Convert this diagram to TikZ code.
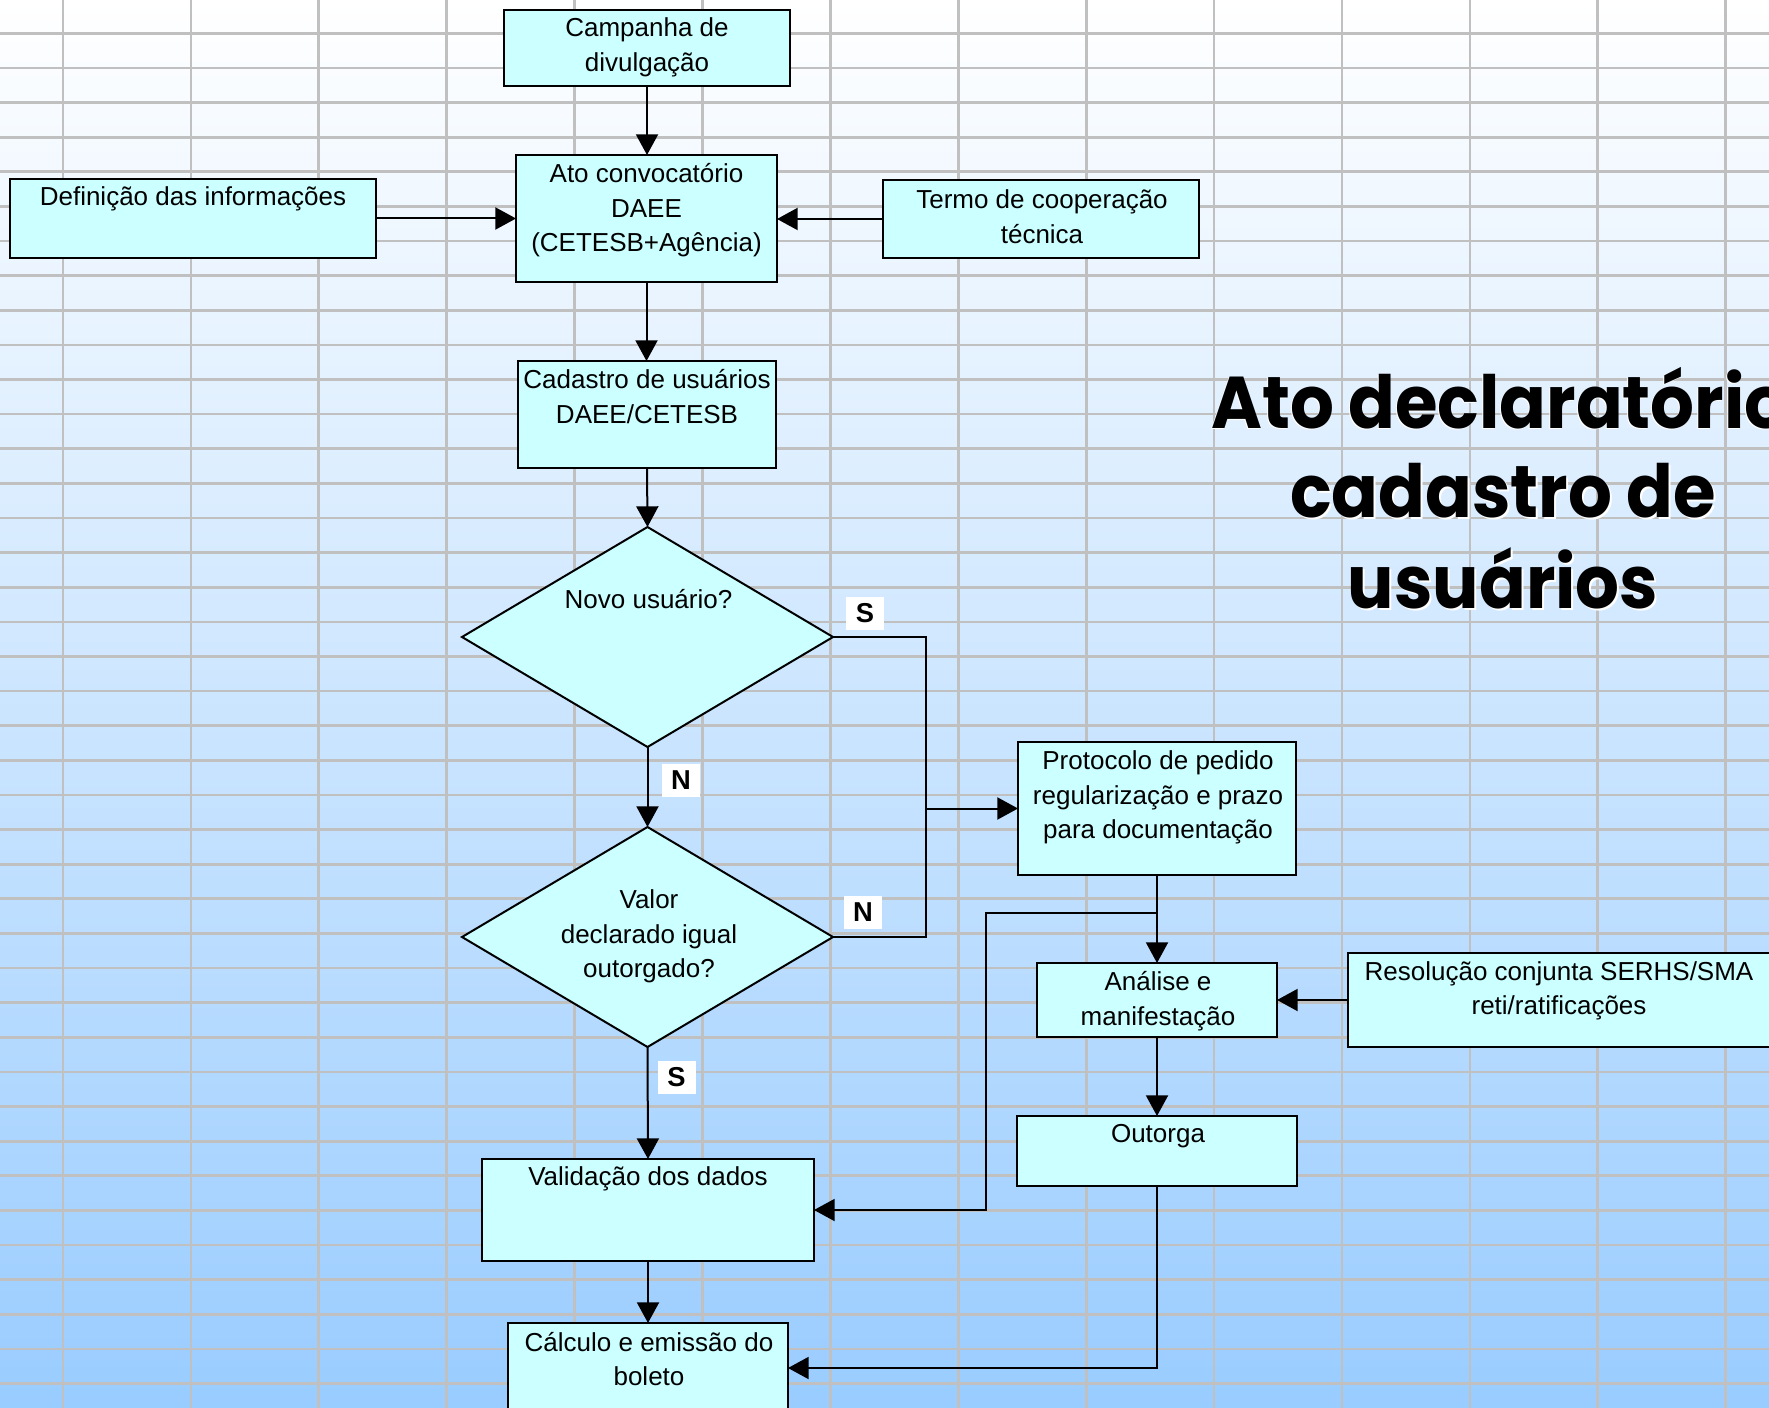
\documentclass[tikz,border=0pt]{standalone}
\usepackage{fontspec}
\setmainfont{Liberation Sans}
\newfontfamily\titlefont{Poppins}[FakeStretch=0.94]
\usetikzlibrary{shapes.geometric,arrows.meta,fit,calc}
\definecolor{boxfill}{HTML}{CCFFFF}
\definecolor{gridc}{HTML}{C0C0C0}
\definecolor{bgbottom}{HTML}{99CCFF}
\begin{document}
\begin{tikzpicture}[x=0.75pt,y=-0.75pt,
 box/.style={draw=black, line width=1.5pt, fill=boxfill, inner sep=0pt, outer sep=0pt},
 dia/.style={diamond, draw=black, line width=1.5pt, fill=boxfill, inner sep=0pt, outer sep=0pt, minimum width=278.25pt, minimum height=165pt},
 txt/.style={anchor=north, align=center, inner sep=0pt, font=\fontsize{19.5pt}{25.8pt}\selectfont},
 arr/.style={line width=1.5pt, -{Triangle[length=15.5pt,width=16.5pt]}},
 conn/.style={line width=1.5pt},
 yn/.style={fill=white, inner sep=0pt, minimum width=28.5pt, minimum height=24.75pt, font=\fontsize{20.5pt}{22pt}\selectfont\bfseries},
 gridline/.style={draw=gridc, line width=2pt},
 ttl/.style={anchor=base, inner sep=0pt, font=\titlefont\bfseries\fontsize{55pt}{66pt}\selectfont}
]
\useasboundingbox (0,0) rectangle (1769,1408);
\clip (0,0) rectangle (1769,1408);
\fill[top color=white, bottom color=bgbottom] (0,0) rectangle (1769,1408);
\foreach \k in {0,...,41} \draw[gridline] (0,{-1.3+34.62*\k}) -- (1769,{-1.3+34.62*\k});
\foreach \k in {0,...,13} \draw[gridline] ({63+127.9*\k},0) -- ({63+127.9*\k},1408);

% title
\node[ttl, text=white] (t1w) at (1499,430) {Ato declaratório};
\node[ttl, text=white] (t2w) at (1505,519) {cadastro de};
\node[ttl, text=white] (t3w) at (1505,610) {usuários};
\node[ttl] (t1) at (1500,428) {Ato declaratório};
\node[ttl] (t2) at (1503,517) {cadastro de};
\node[ttl] (t3) at (1503,608) {usuários};

% boxes
\node[box, fit={(504,10) (790,86)}] (camp) {};
\node[txt] (campT) at (647,12.3) {\strut Campanha de\\\strut divulgação};
\node[box, fit={(516,155) (777,282)}] (ato) {};
\node[txt] (atoT) at (646.5,158.3) {\strut Ato convocatório\\\strut DAEE\\\strut (CETESB+Agência)};
\node[box, fit={(10,179) (376,258)}] (defi) {};
\node[txt] (defiT) at (193,181.3) {\strut Definição das informações};
\node[box, fit={(883,180) (1199,258)}] (termo) {};
\node[txt] (termoT) at (1042,184.3) {\strut Termo de cooperação\\\strut técnica};
\node[box, fit={(518,361) (776,468)}] (cad) {};
\node[txt] (cadT) at (647,364.3) {\strut Cadastro de usuários\\\strut DAEE/CETESB};
\node[dia] (novo) at (647.5,637) {};
\node[txt] (novoT) at (648.5,584.6) {\strut Novo usuário?};
\node[dia] (valor) at (647.5,937) {};
\node[txt] (valorT) at (649,884.3) {\strut Valor\\\strut declarado igual\\\strut outorgado?};
\node[box, fit={(1018,742) (1296,875)}] (proto) {};
\node[txt] (protoT) at (1158,745.3) {\strut Protocolo de pedido\\\strut regularização e prazo\\\strut para documentação};
\node[box, fit={(1037,963) (1277,1037)}] (anal) {};
\node[txt] (analT) at (1158,966.5) {\strut Análise e\\\strut manifestação};
\node[box, fit={(1347.5,953) (1771,1047)}] (resol) {};
\node[txt] (resolT) at (1559,956) {\strut Resolução conjunta SERHS/SMA\\\strut reti/ratificações};
\node[box, fit={(1017,1116) (1297,1186)}] (outorga) {};
\node[txt] (outorgaT) at (1158,1118.3) {\strut Outorga};
\node[box, fit={(482,1159) (814,1261)}] (valid) {};
\node[txt] (validT) at (648,1161.3) {\strut Validação dos dados};
\node[box, fit={(508,1323) (788,1413)}] (calc) {};
\node[txt] (calcT) at (649,1327) {\strut Cálculo e emissão do\\\strut boleto};

% connectors
\draw[arr] (camp.south) -- (camp.south |- ato.north);
\draw[arr] (defi.east) -- (defi.east -| ato.west);
\draw[arr] (termo.west) -- (termo.west -| ato.east);
\draw[arr] (ato.south) -- (ato.south |- cad.north);
\draw[arr] (cad.south) -- (novo.north);
\draw[arr] (novo.south) -- (valor.north);
\draw[arr] (valor.south) -- (valid.north);
\draw[arr] (valid.south) -- (calc.north);
\coordinate (jx) at (926,637);
\draw[conn] (novo.east) -- (novo.east -| jx) -- (valor.east -| jx) -- (valor.east);
\draw[arr] (proto.west -| jx) -- (proto.west);
\draw[arr] (proto.south) -- (anal.north);
\coordinate (kx) at (986,913);
\draw[arr] (proto.south |- kx) -- (kx) |- (valid.east);
\draw[arr] (resol.west) -- (resol.west -| anal.east);
\draw[arr] (anal.south) -- (outorga.north);
\draw[arr] (outorga.south) |- (calc.east);

% labels
\node[yn] (s1) at (865,613) {S};
\node[yn] (n1) at (681,780) {N};
\node[yn] (n2) at (863,912) {N};
\node[yn] (s2) at (676.5,1077.5) {S};
\end{tikzpicture}
\end{document}
